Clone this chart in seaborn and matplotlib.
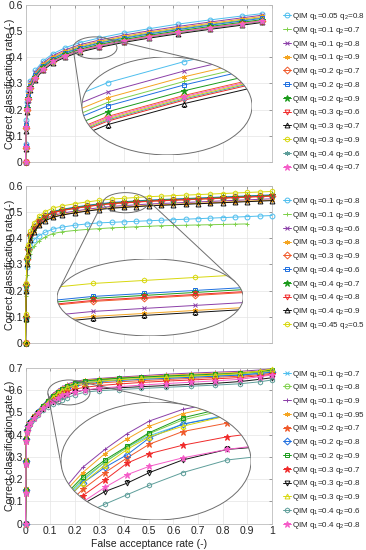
import numpy as np
import matplotlib
matplotlib.use("Agg")
import matplotlib.pyplot as plt
import seaborn as sns
from matplotlib.patches import Ellipse
from matplotlib.lines import Line2D

sns.set_theme(style="whitegrid")
plt.rcParams["font.family"] = ["Liberation Sans", "DejaVu Sans"]
plt.rcParams["mathtext.fontset"] = "custom"
plt.rcParams["mathtext.rm"] = "Liberation Sans"
plt.rcParams["mathtext.default"] = "regular"

nan = np.nan

# ---------------- panel 1 ----------------
p1_q1 = [0.05, 0.1, 0.1, 0.1, 0.2, 0.2, 0.2, 0.3, 0.3, 0.3, 0.4, 0.4]
p1_q2 = [0.8, 0.7, 0.8, 0.9, 0.7, 0.8, 0.9, 0.6, 0.7, 0.9, 0.6, 0.7]
p1_far = [0, 0.001, 0.003, 0.006, 0.01, 0.02, 0.04, 0.07, 0.11, 0.16, 0.22, 0.3,
          0.4, 0.5, 0.62, 0.75, 0.88, 0.96]
p1_ccr = [
    [0, 0.07, 0.16, 0.23, 0.27, 0.31, 0.35, 0.385, 0.413, 0.436, 0.456, 0.474, 0.493, 0.509, 0.527, 0.543, 0.558, 0.567],
    [0, 0.06, 0.14, 0.212, 0.254, 0.294, 0.334, 0.369, 0.397, 0.419, 0.439, 0.457, 0.476, 0.492, 0.509, 0.526, 0.542, 0.552],
    [0, 0.065, 0.15, 0.22, 0.265, 0.305, 0.343, 0.378, 0.406, 0.428, 0.448, 0.466, 0.485, 0.501, 0.518, 0.535, 0.551, 0.561],
    [0, 0.06, 0.145, 0.215, 0.258, 0.298, 0.338, 0.373, 0.401, 0.423, 0.443, 0.461, 0.48, 0.496, 0.513, 0.53, 0.546, 0.556],
    [0, 0.055, 0.13, 0.2, 0.242, 0.282, 0.322, 0.357, 0.385, 0.407, 0.427, 0.445, 0.464, 0.48, 0.497, 0.514, 0.53, 0.54],
    [0, 0.06, 0.14, 0.21, 0.251, 0.291, 0.331, 0.366, 0.394, 0.416, 0.436, 0.454, 0.473, 0.489, 0.506, 0.523, 0.539, 0.549],
    [0, 0.058, 0.135, 0.205, 0.246, 0.286, 0.326, 0.361, 0.389, 0.411, 0.431, 0.449, 0.468, 0.484, 0.501, 0.518, 0.534, 0.544],
    [0, 0.05, 0.125, 0.195, 0.238, 0.278, 0.318, 0.353, 0.381, 0.403, 0.423, 0.441, 0.46, 0.476, 0.493, 0.51, 0.526, 0.536],
    [0, 0.05, 0.12, 0.19, 0.235, 0.275, 0.315, 0.35, 0.378, 0.4, 0.42, 0.438, 0.457, 0.473, 0.49, 0.507, 0.523, 0.533],
    [0, 0.055, 0.13, 0.2, 0.24, 0.28, 0.32, 0.355, 0.383, 0.405, 0.425, 0.443, 0.462, 0.478, 0.495, 0.512, 0.528, 0.538],
    [0, 0.052, 0.128, 0.198, 0.239, 0.279, 0.319, 0.354, 0.382, 0.404, 0.424, 0.442, 0.461, 0.477, 0.494, 0.511, 0.527, 0.537],
    [0, 0.056, 0.132, 0.202, 0.241, 0.281, 0.321, 0.356, 0.384, 0.406, 0.426, 0.444, 0.463, 0.479, 0.496, 0.513, 0.529, 0.539],
]

# ---------------- panel 2 ----------------
p2_q1 = [0.1, 0.1, 0.3, 0.3, 0.3, 0.4, 0.4, 0.4, 0.4, 0.45]
p2_q2 = [0.8, 0.9, 0.6, 0.8, 0.9, 0.6, 0.7, 0.8, 0.9, 0.5]
p2_far = [0, 0.001, 0.003, 0.006, 0.01, 0.02, 0.035, 0.055, 0.08, 0.11, 0.15, 0.2,
          0.25, 0.3, 0.35, 0.4, 0.45, 0.5, 0.55, 0.6, 0.65, 0.7, 0.75, 0.8,
          0.85, 0.9, 0.95, 1.0]
p2_ccr = [
    [0, .09, .2, .29, .33, .37, .395, .41, .423, .435, .443, .45, .455, .459, .461, .463, .465, .467, .469, .471, .473, .475, .477, .479, .481, .483, .485, .487],
    [0, .08, .18, .26, .3, .34, .37, .39, .405, .418, .425, .43, .434, .437, .44, .442, .444, .446, .448, .449, .45, .451, .452, .453, .454, .455, nan, nan],
    [0, .095, .21, .31, .352, .402, .432, .457, .474, .487, .496, .504, .511, .517, .522, .525, .528, .531, .533, .535, .537, .539, .541, .543, .545, .547, .549, .551],
    [0, .09, .2, .3, .347, .397, .427, .452, .469, .482, .491, .499, .506, .512, .517, .52, .523, .526, .528, .53, .532, .534, .536, .538, .54, .542, .544, .546],
    [0, .1, .22, .32, .361, .412, .442, .467, .484, .497, .506, .514, .521, .527, .532, .535, .538, .541, .543, .545, .547, .549, .551, .553, .555, .557, .559, .561],
    [0, .1, .22, .32, .365, .416, .447, .472, .489, .502, .511, .519, .526, .532, .537, .54, .543, .546, .548, .55, .552, .554, .556, .558, .56, .562, .564, .566],
    [0, .1, .22, .32, .364, .414, .445, .47, .487, .5, .509, .517, .524, .53, .535, .538, .541, .544, .546, .548, .55, .552, .554, .556, .558, .56, .562, .564],
    [0, .1, .22, .32, .362, .413, .443, .468, .485, .498, .507, .515, .522, .528, .533, .536, .539, .542, .544, .546, .548, .55, .552, .554, .556, .558, .56, .562],
    [0, .09, .2, .3, .345, .395, .425, .45, .467, .48, .489, .497, .504, .51, .515, .518, .521, .524, .526, .528, .53, .532, .534, .536, .538, .54, .542, .544],
    [0, .11, .23, .33, .375, .428, .46, .485, .502, .515, .524, .532, .539, .545, .55, .553, .556, .559, .561, .563, .565, .567, .569, .571, .573, .575, .577, .579],
]

# ---------------- panel 3 ----------------
p3_q1 = [0.1, 0.1, 0.1, 0.1, 0.2, 0.2, 0.2, 0.3, 0.3, 0.3, 0.4, 0.4]
p3_q2 = [0.7, 0.8, 0.9, 0.95, 0.7, 0.8, 0.9, 0.7, 0.8, 0.9, 0.6, 0.8]
p3_far = [0, 0.001, 0.002, 0.004, 0.007, 0.012, 0.02, 0.035, 0.05, 0.07, 0.09, 0.11,
          0.13, 0.15, 0.17, 0.2, 0.24, 0.3, 0.38, 0.47, 0.57, 0.67, 0.77, 0.87,
          0.95, 1.0]
p3_ccr = [
    [0, .15, .28, .38, .42, .44, .456, .481, .501, .527, .549, .57, .588, .602, .613, .624, .633, .64, .645, .65, .655, .66, .664, .669, .675, .68],
    [0, .15, .28, .38, .42, .44, .456, .481, .501, .527, .55, .572, .588, .602, .615, .628, .638, .645, .651, .656, .66, .664, .668, .673, .679, .685],
    [0, .16, .29, .39, .43, .45, .465, .49, .508, .532, .558, .583, .6, .615, .627, .638, .646, .652, .658, .664, .671, .676, .68, .684, .69, .695],
    [0, .16, .29, .39, .43, .45, .463, .488, .506, .53, .555, .578, .596, .61, .622, .634, .643, .649, .655, .66, .666, .671, .675, .679, .684, .688],
    [0, .15, .28, .38, .42, .44, .454, .478, .498, .522, .542, .562, .578, .592, .605, .617, .625, .632, .637, .642, .647, .652, .657, .662, .669, .675],
    [0, .15, .28, .38, .42, .44, .455, .48, .5, .525, .547, .568, .583, .595, .611, .624, .632, .638, .643, .648, .652, .657, .662, .667, .674, .68],
    [0, .15, .28, .38, .42, .44, .456, .481, .502, .528, .552, .574, .59, .603, .616, .63, .64, .647, .653, .658, .663, .667, .671, .676, .683, .69],
    [0, .14, .27, .37, .41, .435, .452, .477, .497, .52, .538, .556, .571, .587, .596, .604, .612, .62, .627, .634, .64, .645, .65, .656, .664, .67],
    [0, .14, .27, .37, .41, .433, .45, .475, .495, .515, .532, .548, .56, .568, .578, .59, .6, .605, .61, .615, .62, .625, .63, .638, .648, .655],
    [0, .15, .28, .38, .42, .44, .455, .48, .5, .526, .548, .568, .585, .6, .612, .622, .632, .64, .646, .652, .657, .662, .667, .674, .685, .695],
    [0, .14, .27, .37, .41, .432, .448, .472, .49, .51, .525, .538, .548, .557, .566, .578, .59, .597, .602, .607, .612, .617, .622, .628, .637, .645],
    [0, .14, .27, .37, .41, .434, .451, .476, .496, .518, .535, .55, .564, .576, .584, .592, .6, .608, .615, .622, .629, .635, .641, .648, .66, .667],
]

# zoom windows (data coords: centre x, centre y, width, height) and inset boxes (axes fraction)
zoom1, inset1 = (0.282, 0.436, 0.178, 0.084), [0.229, 0.045, 0.69, 0.624]
zoom2, inset2 = (0.406, 0.536, 0.182, 0.077), [0.128, 0.045, 0.755, 0.49]
zoom3, inset3 = (0.176, 0.589, 0.171, 0.112), [0.144, 0.024, 0.771, 0.756]

colors = ["#4DBEEE", "#7ED04B", "#8B3FA8", "#F4A522", "#F0592A", "#1F6FE0",
          "#1A9A1A", "#F02A2A", "#111111", "#D8D80F", "#5E9E9A", "#F55CC8"]
ast = (6, 2, 0)
markers1 = ["o", "+", "x", ast, "D", "s", "*", "v", "^", "h", ast, "*"]
markers2 = ["o", "+", "x", ast, "D", "s", "*", "v", "^", "h"]
markers3 = ["x", "o", "+", ast, "*", "D", "s", "*", "v", "^", "h", "*"]
open_markers = ["o", "D", "s", "v", "^", "h"]


def style(i, mk):
    filled = mk not in open_markers
    ms = 4.5 if mk == "*" else 3.5
    return dict(color=colors[i], marker=mk, mec=colors[i],
                mfc=colors[i] if filled else "none", ms=ms, mew=0.7, lw=0.7)


def hull(P):
    idx = sorted(range(len(P)), key=lambda k: (P[k][0], P[k][1]))

    def cross(o, a, b):
        return (a[0] - o[0]) * (b[1] - o[1]) - (a[1] - o[1]) * (b[0] - o[0])

    lower, upper = [], []
    for k in idx:
        while len(lower) >= 2 and cross(P[lower[-2]], P[lower[-1]], P[k]) <= 0:
            lower.pop()
        lower.append(k)
    for k in reversed(idx):
        while len(upper) >= 2 and cross(P[upper[-2]], P[upper[-1]], P[k]) <= 0:
            upper.pop()
        upper.append(k)
    return lower[:-1] + upper[:-1]


def panel(ax, far, ccr, q1, q2, markers, ymax, zoom, box, leg_y):
    handles = []
    for i, y in enumerate(ccr):
        lab = f"QIM q$_1$={q1[i]:g} q$_2$={q2[i]:g}"
        sns.lineplot(x=far, y=y, ax=ax, estimator=None, errorbar=None, sort=False,
                     clip_on=False, zorder=3, **style(i, markers[i]))
        handles.append(Line2D([], [], label=lab, **style(i, markers[i])))
    ax.set_xlim(0, 1)
    ax.set_ylim(0, ymax)
    ax.set_xticks(np.linspace(0, 1, 11))
    ax.set_yticks(np.linspace(0, ymax, int(round(ymax * 10)) + 1))
    fmt = plt.FuncFormatter(lambda v, _: f"{round(v, 2):g}")
    ax.xaxis.set_major_formatter(fmt)
    ax.yaxis.set_major_formatter(fmt)
    ax.tick_params(direction="in", length=2.5, width=0.5, color="#777777",
                   top=True, right=True, labelsize=7.5, pad=2, labelcolor="#222222")
    ax.grid(True, color="#E4E4E4", lw=0.5)
    for s in ax.spines.values():
        s.set_color("#BDBDBD")
        s.set_linewidth(0.6)
    ax.set_xlabel("")
    ax.set_ylabel("Correct classification rate (-)", fontsize=7.5, color="#222222")
    ax.yaxis.set_label_coords(-0.044, 0.5)

    # magnified inset
    cx, cy, w, h = zoom
    ins = ax.inset_axes(box)
    ins.axis("off")
    ins.add_patch(Ellipse((0.5, 0.5), 1, 1, transform=ins.transAxes,
                          fc="white", ec="none", zorder=0))
    clip = Ellipse((0.5, 0.5), 1, 1, transform=ins.transAxes)
    for i, y in enumerate(ccr):
        sns.lineplot(x=far, y=y, ax=ins, estimator=None, errorbar=None, sort=False,
                     legend=False, zorder=2, **style(i, markers[i]))
    for ln in ins.lines:
        ln.set_clip_path(clip)
    ins.set_xlim(cx - w / 2, cx + w / 2)
    ins.set_ylim(cy - h / 2, cy + h / 2)
    ins.add_patch(Ellipse((0.5, 0.5), 1, 1, transform=ins.transAxes,
                          fc="none", ec="#6E6E6E", lw=0.7, zorder=4))
    ax.add_patch(Ellipse((cx, cy), w, h, fc="none", ec="#6E6E6E", lw=0.7, zorder=4))

    # tangent lines joining the two ellipses
    t = np.linspace(0, 2 * np.pi, 360, endpoint=False)
    small = ax.transData.transform(np.column_stack([cx + w / 2 * np.cos(t), cy + h / 2 * np.sin(t)]))
    bx, by, bw, bh = box
    big = ax.transAxes.transform(np.column_stack([bx + bw / 2 + bw / 2 * np.cos(t),
                                                  by + bh / 2 + bh / 2 * np.sin(t)]))
    P = np.vstack([small, big])
    grp = np.r_[np.zeros(len(small)), np.ones(len(big))]
    hl = hull(P)
    inv = ax.transAxes.inverted()
    for a, b in zip(hl, hl[1:] + hl[:1]):
        if grp[a] != grp[b]:
            pa, pb = inv.transform(P[[a, b]])
            ax.add_line(Line2D([pa[0], pb[0]], [pa[1], pb[1]], transform=ax.transAxes,
                               color="#6E6E6E", lw=0.7, zorder=4))

    ax.legend(handles=handles, loc="upper left", bbox_to_anchor=(1.045, leg_y),
              frameon=False, fontsize=5.8, handlelength=1.0, handletextpad=0.1,
              labelspacing=0.34, borderaxespad=0, borderpad=0)


fig = plt.figure(figsize=(3.66, 5.5), dpi=100)
ax1 = fig.add_axes([0.0697, 0.7055, 0.6735, 0.2855])
ax2 = fig.add_axes([0.0697, 0.3764, 0.6735, 0.2855])
ax3 = fig.add_axes([0.0697, 0.0478, 0.6735, 0.2836])

panel(ax1, p1_far, p1_ccr, p1_q1, p1_q2, markers1, 0.6, zoom1, inset1, 0.96)
panel(ax2, p2_far, p2_ccr, p2_q1, p2_q2, markers2, 0.6, zoom2, inset2, 0.935)
panel(ax3, p3_far, p3_ccr, p3_q1, p3_q2, markers3, 0.7, zoom3, inset3, 0.995)

ax1.tick_params(labelbottom=False)
ax2.tick_params(labelbottom=False)
ax3.set_xlabel("False acceptance rate (-)", fontsize=7.5, color="#222222", labelpad=2)

fig.savefig("out.png", dpi=100)
